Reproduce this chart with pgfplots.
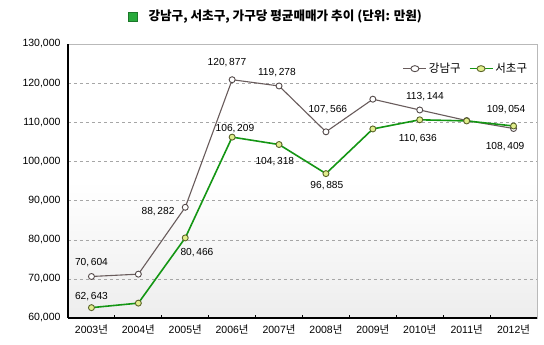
\documentclass[border=0pt]{standalone}
\usepackage{fontspec}
\setmainfont{Liberation Sans}
\newfontfamily\cjk{Noto Sans CJK KR}
\usepackage{pgfplots}
\pgfplotsset{compat=1.18}
\definecolor{gangline}{RGB}{105,92,92}
\definecolor{seoline}{RGB}{20,150,20}
\definecolor{seomark}{RGB}{225,238,140}
\definecolor{seoedge}{RGB}{90,100,40}
\definecolor{titlegreen}{RGB}{40,170,60}
\begin{document}
\begin{tikzpicture}[x=1pt,y=1pt]
\path[use as bounding box] (0,0) rectangle (544,345);
\node[anchor=west,font=\cjk\bfseries\fontsize{12.6}{14}\selectfont] at (145,328) {강남구, 서초구, 가구당 평균매매가 추이 (단위: 만원)};
\fill[titlegreen,draw=titlegreen!70!black] (128,323.5) rectangle (137,332.5);
\begin{axis}[
  at={(68pt,27pt)}, anchor=south west,
  scale only axis, width=469pt, height=274pt,
  xmin=-0.5, xmax=9.5, ymin=60000, ymax=130000,
  xtick={0,...,9},
  xticklabels={{2003{\cjk 년}},{2004{\cjk 년}},{2005{\cjk 년}},{2006{\cjk 년}},{2007{\cjk 년}},{2008{\cjk 년}},{2009{\cjk 년}},{2010{\cjk 년}},{2011{\cjk 년}},{2012{\cjk 년}}},
  minor xtick={-0.5,0.5,...,9.5},
  xtick pos=left,
  major tick length=0pt, minor tick length=3pt,
  minor tick style={black, thick},
  ytick={60000,70000,...,130000},
  scaled y ticks=false,
  /pgf/number format/.cd, fixed, 1000 sep={,}, assume math mode=true, /pgfplots/.cd,
  ticklabel style={font=\fontsize{10.5}{12}\selectfont, text=black},
  xticklabel style={yshift=-3pt},
  yticklabel style={xshift=-4pt},
  ymajorgrids,
  major grid style={dashed, gray!70, thin},
  axis line style={draw=gray!55, thin},
  axis background/.style={shade, top color=white, bottom color=gray!14, middle color=white},
  legend style={at={(0.99,0.91)}, anchor=east, draw=none, fill=none,
    font=\cjk\fontsize{11.5}{13}\selectfont, legend columns=2,
    /tikz/every even column/.append style={column sep=6pt}},
  legend image post style={xscale=1.35},
  legend cell align=left,
  clip=false,
]
\addplot[color=gangline, line width=1.1pt, mark=*, mark size=3pt,
  mark options={fill=white, draw=gangline!80!black, line width=0.9pt}]
  coordinates {(0,70604) (1,71200) (2,88282) (3,120877) (4,119278) (5,107566) (6,115900) (7,113144) (8,110450) (9,108409)};
\addlegendentry{강남구}
\addplot[color=seoline, line width=1.6pt, mark=*, mark size=3pt,
  mark options={fill=seomark, draw=seoedge, line width=0.9pt}]
  coordinates {(0,62643) (1,63800) (2,80466) (3,106209) (4,104318) (5,96885) (6,108300) (7,110636) (8,110350) (9,109054)};
\addlegendentry{서초구}
\draw[black, line width=1.1pt] (rel axis cs:0,0) -- (rel axis cs:0,1);
\draw[black, line width=1.1pt] (rel axis cs:0,0) -- (rel axis cs:1,0);
\begin{scope}[every node/.style={font=\fontsize{10.2}{12}\selectfont, text=black, inner sep=0pt}]
\node at (axis cs:0,74050) {70,\,604};
\node at (axis cs:0,65370) {62,\,643};
\node at (axis cs:1.42,87080) {88,\,282};
\node at (axis cs:2.25,76606) {80,\,466};
\node at (axis cs:2.89,125145) {120,\,877};
\node at (axis cs:3.06,108284) {106,\,209};
\node at (axis cs:3.955,122590) {119,\,278};
\node at (axis cs:3.91,99853) {104,\,318};
\node at (axis cs:5.04,113138) {107,\,566};
\node at (axis cs:5.02,93722) {96,\,885};
\node at (axis cs:7.11,116459) {113,\,144};
\node at (axis cs:6.96,105729) {110,\,636};
\node at (axis cs:8.84,113138) {109,\,054};
\node at (axis cs:8.82,103685) {108,\,409};
\end{scope}
\end{axis}
\end{tikzpicture}
\end{document}
